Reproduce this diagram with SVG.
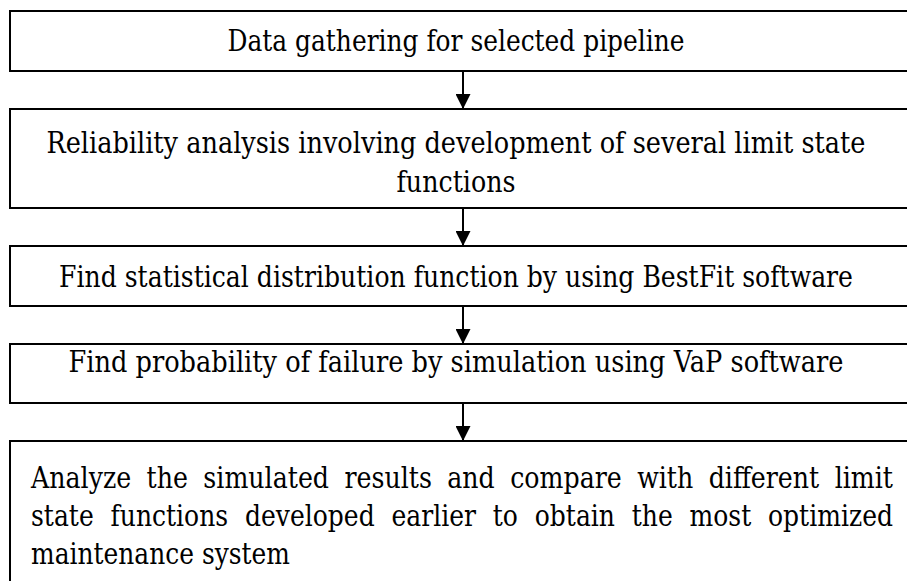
<svg xmlns="http://www.w3.org/2000/svg" width="907" height="581" viewBox="0 0 907 581">
<style>
.box{fill:#fff;stroke:#000;stroke-width:2}
.t{font-family:'DejaVu Serif','Liberation Serif','Times New Roman',serif;font-size:25px;fill:#000}
.c{text-anchor:middle}
.conn{stroke:#000;stroke-width:2;fill:none}
</style>
<defs>
<marker id="ah" markerUnits="userSpaceOnUse" markerWidth="16" markerHeight="15" refX="15" refY="7.5" orient="auto">
<path d="M0,0 L15,7.5 L0,15 Z" fill="#000"/>
</marker>
</defs>
<rect width="907" height="581" fill="#fff"/>
<g id="connectors">
<line class="conn" x1="463" y1="71" x2="463" y2="109" marker-end="url(#ah)"/>
<line class="conn" x1="463" y1="208" x2="463" y2="246" marker-end="url(#ah)"/>
<line class="conn" x1="463" y1="306" x2="463" y2="344" marker-end="url(#ah)"/>
<line class="conn" x1="463" y1="403" x2="463" y2="441" marker-end="url(#ah)"/>
</g>
<g id="n1">
<rect class="box" x="10" y="11" width="920" height="60"/>
<g transform="scale(1,1.16)"><text class="t c" x="456" y="43.97" textLength="457" lengthAdjust="spacingAndGlyphs">Data gathering for selected pipeline</text></g>
</g>
<g id="n2">
<rect class="box" x="10" y="109" width="920" height="99"/>
<g transform="scale(1,1.16)">
<text class="t c" x="456" y="131.9" textLength="819" lengthAdjust="spacingAndGlyphs">Reliability analysis involving development of several limit state</text>
<text class="t c" x="456" y="165.52" textLength="119" lengthAdjust="spacingAndGlyphs">functions</text>
</g>
</g>
<g id="n3">
<rect class="box" x="10" y="246" width="920" height="60"/>
<g transform="scale(1,1.16)"><text class="t c" x="456" y="247.41" textLength="794" lengthAdjust="spacingAndGlyphs">Find statistical distribution function by using BestFit software</text></g>
</g>
<g id="n4">
<rect class="box" x="10" y="344" width="920" height="59"/>
<g transform="scale(1,1.16)"><text class="t c" x="456" y="320.69" textLength="775" lengthAdjust="spacingAndGlyphs">Find probability of failure by simulation using VaP software</text></g>
</g>
<g id="n5">
<rect class="box" x="10" y="441" width="920" height="160"/>
<g transform="scale(1,1.16)">
<text class="t" x="31" y="420.69" word-spacing="7.3" textLength="862" lengthAdjust="spacingAndGlyphs">Analyze the simulated results and compare with different limit</text>
<text class="t" x="31" y="453.45" word-spacing="8.8" textLength="862" lengthAdjust="spacingAndGlyphs">state functions developed earlier to obtain the most optimized</text>
<text class="t" x="31" y="486.21" textLength="259" lengthAdjust="spacingAndGlyphs">maintenance system</text>
</g>
</g>
</svg>
